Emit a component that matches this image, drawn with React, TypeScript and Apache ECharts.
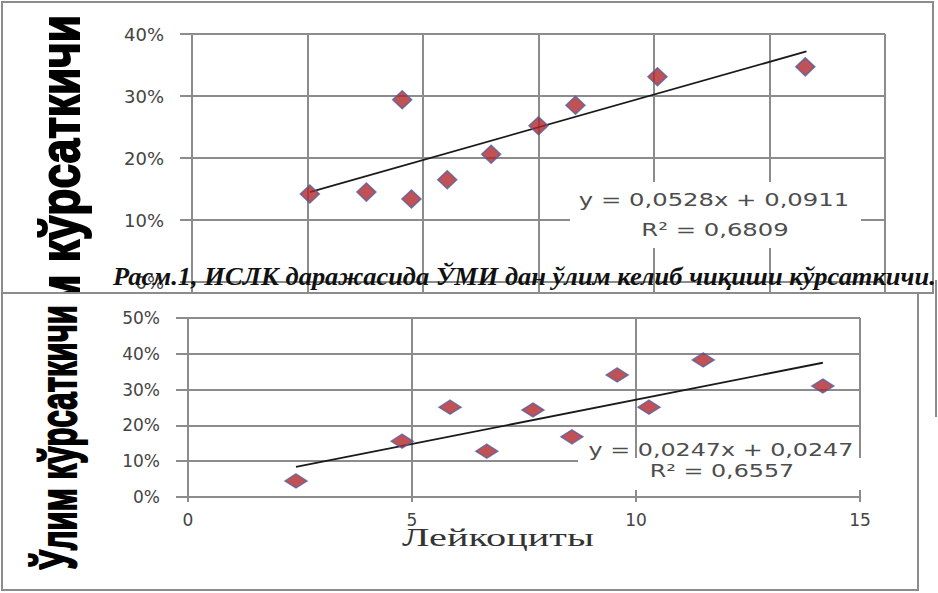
import React, { useEffect, useRef } from "react";
import * as echarts from "echarts";

// ---- data ----
const topX = [1.02, 1.51, 1.82, 1.9, 2.21, 2.59, 3.0, 3.32, 4.03, 5.31];
const topY = [0.142, 0.145, 0.294, 0.134, 0.165, 0.206, 0.252, 0.285, 0.331, 0.347];
const topTrendX = [1.02, 5.32];
const topTrendY = [0.145, 0.372];

const botX = [2.41, 4.78, 5.85, 6.67, 7.7, 8.57, 9.58, 10.29, 11.5, 14.17];
const botY = [0.045, 0.156, 0.251, 0.128, 0.243, 0.168, 0.341, 0.251, 0.383, 0.31];
const botTrendX = [2.41, 14.17];
const botTrendY = [0.084, 0.375];

const topEquation = ["y = 0,0528x + 0,0911", "R² = 0,6809"];
const botEquation = ["y = 0,0247x + 0,0247", "R² = 0,6557"];
const yTitle = "Ўлим кўрсаткичи";
const xTitle = "Лейкоциты";
const caption = "Расм.1, ИСЛК даражасида ЎМИ дан ўлим келиб чиқиши кўрсаткичи.";

const GRID = "#8c8c8c";
const LABEL = "#444444";

function pairs(xs: number[], ys: number[]) {
  return xs.map((x, i) => [x, ys[i]]);
}

export default function App() {
  const ref = useRef<HTMLDivElement>(null);
  useEffect(() => {
    if (!ref.current) return;
    const chart = echarts.init(ref.current, undefined, { renderer: "svg" });
    const pct = (v: number) => Math.round(v * 100) + "%";
    const axisCommon = {
      axisLine: { show: true, lineStyle: { color: GRID, width: 2 } },
      splitLine: { show: true, lineStyle: { color: GRID, width: 2 } },
    };
    const diamond = {
      color: "#b0262b",
      borderColor: "#55609e",
      borderWidth: 1.5,
    };
    chart.setOption({
      animation: false,
      backgroundColor: "#ffffff",
      grid: [
        { left: 192, top: 34, width: 693, height: 248 },
        { left: 188, top: 318, width: 672, height: 179 },
      ],
      xAxis: [
        {
          gridIndex: 0,
          type: "value",
          min: 0,
          max: 6,
          interval: 1,
          ...axisCommon,
          axisTick: { show: true, length: 10, lineStyle: { color: GRID, width: 2 } },
          axisLabel: { show: false },
          z: 0,
        },
        {
          gridIndex: 1,
          type: "value",
          min: 0,
          max: 15,
          interval: 5,
          ...axisCommon,
          axisTick: { show: true, length: 5, lineStyle: { color: GRID, width: 2 } },
          axisLabel: {
            show: true,
            margin: 14,
            color: LABEL,
            fontSize: 17,
            fontFamily: "DejaVu Sans",
          },
          z: 4,
        },
      ],
      yAxis: [
        {
          gridIndex: 0,
          type: "value",
          min: 0,
          max: 0.4,
          interval: 0.1,
          ...axisCommon,
          axisTick: { show: true, length: 12, lineStyle: { color: GRID, width: 2 } },
          axisLabel: {
            margin: 28,
            formatter: pct,
            color: LABEL,
            fontSize: 18,
            fontFamily: "DejaVu Sans",
          },
          z: 0,
        },
        {
          gridIndex: 1,
          type: "value",
          min: 0,
          max: 0.5,
          interval: 0.1,
          ...axisCommon,
          axisTick: { show: true, length: 12, lineStyle: { color: GRID, width: 2 } },
          axisLabel: {
            margin: 28,
            formatter: pct,
            color: LABEL,
            fontSize: 17,
            fontFamily: "DejaVu Sans",
          },
          z: 4,
        },
      ],
      series: [
        {
          type: "line",
          xAxisIndex: 0,
          yAxisIndex: 0,
          data: pairs(topTrendX, topTrendY),
          showSymbol: false,
          symbol: "none",
          lineStyle: { color: "#1a1a1a", width: 1.8 },
          z: 2,
        },
        {
          type: "scatter",
          xAxisIndex: 0,
          yAxisIndex: 0,
          data: pairs(topX, topY),
          symbol: "diamond",
          symbolSize: [19, 18],
          itemStyle: diamond,
          z: 3,
        },
        {
          type: "line",
          xAxisIndex: 1,
          yAxisIndex: 1,
          data: pairs(botTrendX, botTrendY),
          showSymbol: false,
          symbol: "none",
          lineStyle: { color: "#1a1a1a", width: 1.8 },
          z: 6,
        },
        {
          type: "scatter",
          xAxisIndex: 1,
          yAxisIndex: 1,
          data: pairs(botX, botY),
          symbol: "diamond",
          symbolSize: [22, 14],
          itemStyle: diamond,
          z: 7,
        },
      ],
      graphic: [
        {
          type: "rect",
          z: 0,
          shape: { x: 2, y: 2, width: 931, height: 291 },
          style: { fill: "none", stroke: GRID, lineWidth: 2 },
        },
        {
          type: "text",
          z: 1,
          x: 60,
          y: 15,
          rotation: Math.PI / 2,
          scaleX: 0.79,
          style: {
            text: yTitle,
            fontSize: 56,
            fontWeight: "bold",
            fontFamily: "Liberation Sans",
            fill: "#000",
            stroke: "#000",
            lineWidth: 2,
            align: "right",
            verticalAlign: "middle",
          },
        },
        {
          type: "rect",
          z: 1,
          shape: { x: 570, y: 182, width: 291, height: 66 },
          style: { fill: "#ffffff" },
        },
        {
          type: "text",
          z: 2,
          x: 714,
          y: 200,
          scaleX: 1.35,
          style: {
            text: topEquation[0],
            fontSize: 18,
            fontFamily: "DejaVu Sans",
            fill: "#4d4d4d",
            align: "center",
            verticalAlign: "middle",
          },
        },
        {
          type: "text",
          z: 2,
          x: 715,
          y: 230,
          scaleX: 1.35,
          style: {
            text: topEquation[1],
            fontSize: 18,
            fontFamily: "DejaVu Sans",
            fill: "#4d4d4d",
            align: "center",
            verticalAlign: "middle",
          },
        },
        {
          type: "rect",
          z: 3,
          shape: { x: 2, y: 293, width: 916, height: 297 },
          style: { fill: "#ffffff", stroke: GRID, lineWidth: 2 },
        },
        {
          type: "rect",
          z: 5,
          shape: { x: 578, y: 458, width: 283, height: 32 },
          style: { fill: "#ffffff" },
        },
        {
          type: "text",
          z: 6,
          x: 721,
          y: 450,
          scaleX: 1.4,
          style: {
            text: botEquation[0],
            fontSize: 17,
            fontFamily: "DejaVu Sans",
            fill: "#4d4d4d",
            align: "center",
            verticalAlign: "middle",
          },
        },
        {
          type: "text",
          z: 6,
          x: 722,
          y: 471,
          scaleX: 1.4,
          style: {
            text: botEquation[1],
            fontSize: 17,
            fontFamily: "DejaVu Sans",
            fill: "#4d4d4d",
            align: "center",
            verticalAlign: "middle",
          },
        },
        {
          type: "text",
          z: 8,
          x: 58,
          y: 305,
          rotation: Math.PI / 2,
          scaleX: 0.6,
          style: {
            text: yTitle,
            fontSize: 52,
            fontWeight: "bold",
            fontFamily: "Liberation Sans",
            fill: "#000",
            stroke: "#000",
            lineWidth: 2,
            align: "right",
            verticalAlign: "middle",
          },
        },
        {
          type: "text",
          z: 8,
          x: 498,
          y: 537,
          scaleX: 1.55,
          style: {
            text: xTitle,
            fontSize: 26,
            fontFamily: "Liberation Serif",
            fill: "#333",
            align: "center",
            verticalAlign: "middle",
          },
        },
        {
          type: "text",
          z: 10,
          x: 113,
          y: 277,
          scaleX: 1.018,
          style: {
            text: caption,
            fontSize: 26,
            fontWeight: "bold",
            fontStyle: "italic",
            fontFamily: "Liberation Serif",
            fill: "#111",
            align: "left",
            verticalAlign: "middle",
          },
        },
        {
          type: "line",
          z: 10,
          shape: { x1: 936, y1: 280, x2: 936, y2: 417 },
          style: { stroke: GRID, lineWidth: 2 },
        },
      ],
    });
    return () => chart.dispose();
  }, []);
  return (
    <div
      ref={ref}
      style={{ position: "fixed", left: 0, top: 0, width: 938, height: 593 }}
    />
  );
}
